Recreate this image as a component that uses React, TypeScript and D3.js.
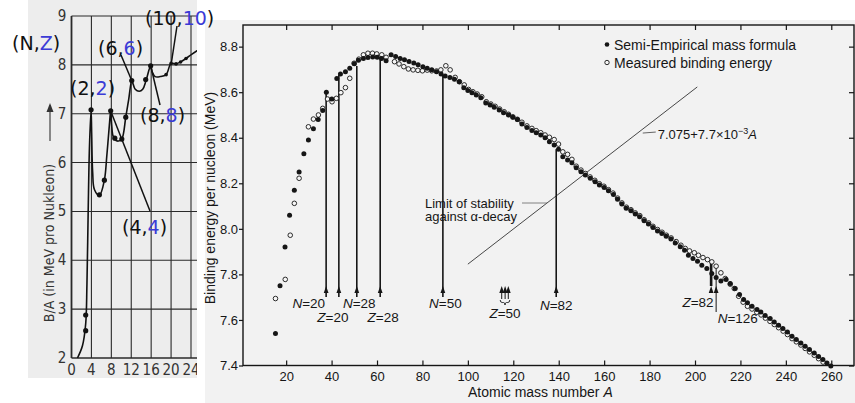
import React, { useEffect, useRef } from 'react';
import * as d3 from 'd3';

const W = 855;
const H = 403;

// ---- main chart: binding energy per nucleon ----
const semiA = [15.3, 17.3, 19.5, 21.5, 23.6, 25.7, 27.8, 29.8, 32.0, 34.1, 36.1, 37.7, 40.1, 42.3, 43.9, 46.1, 48.0, 50.0, 51.8, 54.0, 56.0, 58.1, 60.1, 62.0, 64.0, 66.2, 68.2, 70.2, 72.1, 74.1, 76.2, 78.1, 80.2, 82.1, 84.1, 86.2, 88.2, 90.0, 92.1, 94.1, 96.2, 98.2, 100.0, 101.8, 103.7, 105.7, 107.9, 109.8, 111.6, 113.8, 115.7, 117.9, 119.8, 121.8, 123.8, 126.0, 128.2, 130.1, 132.1, 134.0, 135.9, 138.0, 139.9, 141.8, 143.9, 145.8, 147.7, 149.8, 151.7, 153.9, 156.0, 157.9, 160.0, 161.9, 164.1, 165.9, 167.8, 169.7, 171.8, 173.7, 175.6, 177.6, 179.5, 181.5, 183.5, 185.4, 187.3, 189.4, 191.3, 193.5, 195.4, 197.1, 199.1, 201.1, 203.0, 205.2, 207.4, 209.3, 211.4, 213.7, 215.5, 217.7, 219.6, 221.4, 223.1, 225.1, 227.3, 229.0, 230.9, 233.1, 234.9, 236.8, 238.7, 240.7, 242.7, 244.6, 246.6, 248.5, 250.4, 252.5, 254.4, 256.3, 258.1, 259.8];
const semiV = [7.54, 7.75, 7.92, 8.06, 8.17, 8.25, 8.33, 8.39, 8.44, 8.48, 8.52, 8.60, 8.57, 8.66, 8.68, 8.69, 8.705, 8.725, 8.74, 8.748, 8.752, 8.755, 8.753, 8.748, 8.738, 8.764, 8.757, 8.748, 8.742, 8.735, 8.728, 8.72, 8.712, 8.705, 8.698, 8.69, 8.68, 8.671, 8.664, 8.657, 8.646, 8.62, 8.607, 8.598, 8.588, 8.576, 8.552, 8.544, 8.534, 8.522, 8.51, 8.50, 8.49, 8.48, 8.46, 8.445, 8.432, 8.422, 8.412, 8.40, 8.382, 8.368, 8.35, 8.316, 8.302, 8.29, 8.268, 8.251, 8.236, 8.222, 8.207, 8.193, 8.182, 8.167, 8.151, 8.13, 8.109, 8.09, 8.079, 8.065, 8.053, 8.035, 8.021, 8.006, 7.991, 7.98, 7.968, 7.955, 7.938, 7.921, 7.906, 7.884, 7.87, 7.858, 7.84, 7.826, 7.804, 7.786, 7.771, 7.778, 7.76, 7.738, 7.712, 7.69, 7.675, 7.66, 7.646, 7.635, 7.62, 7.606, 7.591, 7.577, 7.562, 7.547, 7.528, 7.514, 7.499, 7.484, 7.47, 7.455, 7.44, 7.426, 7.411, 7.398];

const measA = [15.3, 19.6, 21.8, 23.6, 25.7, 29.8, 32.0, 34.2, 36.1, 38.2, 40.2, 42.1, 44.1, 46.1, 48.0, 49.9, 52.0, 54.0, 56.0, 58.0, 59.9, 62.1, 64.0, 67.7, 69.7, 71.8, 73.8, 75.9, 78.0, 80.0, 82.1, 84.1, 86.2, 88.1, 90.3, 92.2, 94.4, 96.3, 98.4, 100.3, 102.2, 104.1, 106.1, 108.1, 110.1, 112.0, 114.0, 116.0, 117.9, 119.8, 121.8, 123.8, 126.0, 128.2, 130.1, 132.1, 134.0, 135.9, 138.0, 139.9, 141.8, 143.9, 145.8, 147.7, 149.8, 151.7, 153.8, 155.9, 157.9, 159.9, 161.9, 163.9, 165.9, 167.8, 169.8, 171.8, 173.7, 175.7, 177.6, 179.6, 181.5, 183.5, 185.5, 187.4, 189.5, 191.7, 193.8, 195.7, 197.6, 199.7, 201.5, 203.5, 205.5, 207.4, 209.3, 211.4, 213.3, 215.5, 217.3, 219.2, 221.2, 223.1, 225.1, 227.2, 229.1, 231.0, 233.0, 234.9, 236.8, 238.8, 240.7, 242.7, 244.6, 246.6, 248.5, 250.4, 252.5, 254.4, 256.4];
const measV = [7.694, 7.778, 7.972, 8.112, 8.222, 8.448, 8.482, 8.50, 8.529, 8.57, 8.558, 8.573, 8.598, 8.62, 8.661, 8.727, 8.745, 8.764, 8.771, 8.771, 8.768, 8.764, 8.753, 8.734, 8.724, 8.712, 8.702, 8.698, 8.696, 8.694, 8.697, 8.694, 8.693, 8.698, 8.716, 8.698, 8.665, 8.646, 8.632, 8.612, 8.602, 8.592, 8.58, 8.558, 8.548, 8.538, 8.526, 8.514, 8.503, 8.492, 8.481, 8.468, 8.452, 8.441, 8.431, 8.422, 8.412, 8.402, 8.392, 8.372, 8.338, 8.327, 8.305, 8.275, 8.258, 8.243, 8.228, 8.213, 8.198, 8.187, 8.172, 8.157, 8.135, 8.114, 8.095, 8.084, 8.07, 8.058, 8.04, 8.026, 8.011, 7.997, 7.985, 7.972, 7.96, 7.944, 7.928, 7.914, 7.903, 7.895, 7.884, 7.874, 7.865, 7.855, 7.836, 7.807, 7.782, 7.757, 7.738, 7.704, 7.678, 7.66, 7.648, 7.634, 7.622, 7.608, 7.594, 7.58, 7.566, 7.551, 7.536, 7.518, 7.504, 7.49, 7.475, 7.46, 7.445, 7.43, 7.415];

const xTicks = [20, 40, 60, 80, 100, 120, 140, 160, 180, 200, 220, 240, 260];
const yTicks = [7.4, 7.6, 7.8, 8.0, 8.2, 8.4, 8.6, 8.8];

// magic-number markers
const magicA = [37.6, 43.2, 51.1, 61.4, 89.0, 138.9, 207.1, 209.3];
const magicTop = [8.605, 8.675, 8.715, 8.755, 8.675, 8.35, 7.86, 7.83];
const magicLetter = ['N', 'Z', 'N', 'Z', 'N', 'N', 'Z', 'N'];
const magicNumber = ['20', '20', '28', '28', '50', '82', '82', '126'];
const z50A = [114.9, 116.4, 117.8];

// limit of stability: 7.075 + 7.7e-3 A
const stabilityA = [100, 201];
const stabilityV = [7.845, 8.623];

// ---- inset: light nuclei ----
const insetCurveA = [1.2, 2.2, 2.85, 3.1, 3.35, 3.6, 3.93, 4.05, 4.25, 4.6, 5.6, 6.6, 7.1, 7.6, 7.87, 8.05, 8.3, 8.7, 9.4, 10.1, 10.9, 11.5, 12.1, 12.4, 12.8, 13.6, 14.3, 15.0, 15.9, 16.2, 16.8, 17.8, 19.0, 20.0, 21.0, 21.9, 23.0, 24.2, 25.8];
const insetCurveV = [2.0, 2.25, 2.7, 3.5, 5.0, 6.3, 7.08, 6.6, 5.8, 5.45, 5.33, 5.64, 6.15, 6.76, 7.06, 6.8, 6.56, 6.47, 6.44, 6.48, 6.93, 7.3, 7.68, 7.6, 7.5, 7.46, 7.5, 7.69, 7.98, 7.86, 7.76, 7.76, 7.8, 8.03, 8.02, 8.06, 8.13, 8.22, 8.33];
const insetDotA = [2.85, 2.85, 3.93, 5.6, 6.6, 7.87, 8.7, 10.1, 10.9, 12.1, 14.9, 15.9, 19.0, 20.0, 21.0, 21.9, 23.0];
const insetDotV = [2.56, 2.88, 7.08, 5.34, 5.64, 7.06, 6.5, 6.48, 6.93, 7.68, 7.7, 7.98, 7.8, 8.03, 8.02, 8.06, 8.13];
const insetXTicks = [0, 4, 8, 12, 16, 20, 24];
const insetYTicks = [2, 3, 4, 5, 6, 7, 8, 9];

const MAIN_FONT = '"Liberation Sans", Arial, sans-serif';
const NOTE_FONT = '"DejaVu Sans", Verdana, sans-serif';
const INSET_FONT = '"Liberation Sans Narrow", "DejaVu Sans Condensed", sans-serif';
const INK = '#161616';
const BLUE = '#3b3bd6';

export default function App() {
    const svgRef = useRef<SVGSVGElement>(null);

    useEffect(() => {
        if (!svgRef.current) return;
        document.body.style.margin = '0';
        const svg = d3.select(svgRef.current);
        svg.selectAll('*').remove();

        // ================= inset =================
        const xi = d3.scaleLinear().domain([0, 24]).range([71.5, 191]);
        const yi = d3.scaleLinear().domain([2, 9]).range([358, 16]);

        svg.append('rect').attr('x', 28).attr('y', 0).attr('width', 169).attr('height', 378).attr('fill', '#ededed');
        svg.append('clipPath').attr('id', 'insetClip')
            .append('rect').attr('x', 28).attr('y', 0).attr('width', 169).attr('height', 378);
        const ins = svg.append('g').attr('clip-path', 'url(#insetClip)').attr('font-family', INSET_FONT);

        ins.selectAll('.hgrid').data(insetYTicks).enter().append('line')
            .attr('x1', xi(0)).attr('x2', 200)
            .attr('y1', d => yi(d)).attr('y2', d => yi(d))
            .attr('stroke', '#2a2a2a').attr('stroke-width', d => (d === 2 ? 1.6 : 1.1));
        ins.selectAll('.vgrid').data(insetXTicks).enter().append('line')
            .attr('x1', d => xi(d)).attr('x2', d => xi(d))
            .attr('y1', yi(9)).attr('y2', yi(2))
            .attr('stroke', '#2a2a2a').attr('stroke-width', d => (d === 0 ? 1.8 : 1.1));

        ins.selectAll('.ylab').data(insetYTicks).enter().append('text')
            .attr('x', 62).attr('y', d => yi(d) + 5).attr('text-anchor', 'middle')
            .attr('font-size', 15).attr('fill', '#333').text(d => d);
        ins.selectAll('.xlab').data(insetXTicks).enter().append('text')
            .attr('x', d => xi(d)).attr('y', 375).attr('text-anchor', 'middle')
            .attr('font-size', 15).attr('fill', '#333').text(d => d);

        ins.append('text')
            .attr('transform', `translate(${54},${243}) rotate(-90)`)
            .attr('text-anchor', 'middle').attr('font-size', 14).attr('fill', '#333')
            .text('B/A (in MeV pro Nukleon)');
        ins.append('line').attr('x1', 50).attr('x2', 50).attr('y1', 141).attr('y2', 105)
            .attr('stroke', '#333').attr('stroke-width', 1.1);
        ins.append('path').attr('d', 'M50,103 L46.5,112 L53.5,112 Z').attr('fill', '#333');

        const curvePts: [number, number][] = insetCurveA.map((a, i) => [xi(a), yi(insetCurveV[i])]);
        ins.append('path')
            .attr('d', d3.line().curve(d3.curveCatmullRom.alpha(0.5))(curvePts))
            .attr('fill', 'none').attr('stroke', '#111').attr('stroke-width', 1.6);
        ins.selectAll('.idot').data(insetDotA).enter().append('circle')
            .attr('cx', d => xi(d)).attr('cy', (d, i) => yi(insetDotV[i]))
            .attr('r', (d, i) => (i < 12 ? 2.6 : 1.8)).attr('fill', '#111');

        // ================= main chart =================
        const x = d3.scaleLinear().domain([1, 270]).range([243, 854]);
        const y = d3.scaleLinear().domain([7.4, 8.895]).range([365.5, 25]);
        const [x0, x1] = x.range();
        const [y0, y1] = y.range();

        svg.append('rect').attr('x', 205).attr('y', 20).attr('width', 650).attr('height', 383).attr('fill', '#f2f2f2');
        const g = svg.append('g').attr('font-family', MAIN_FONT);

        const styleAxis = (sel: d3.Selection<SVGGElement, unknown, null, undefined>) => {
            sel.select('.domain').remove();
            sel.selectAll('.tick line').attr('stroke', INK).attr('stroke-width', 1.2);
            sel.selectAll('.tick text').attr('fill', INK).attr('font-size', 13);
        };
        g.append('g').attr('transform', `translate(${x0},0)`)
            .call(d3.axisLeft(y).tickValues(yTicks).tickSize(4).tickPadding(1).tickFormat(d3.format('.1f')))
            .call(styleAxis);
        g.append('g').attr('transform', `translate(${x1},0)`)
            .call(d3.axisRight(y).tickValues(yTicks).tickSize(-5).tickFormat(() => ''))
            .call(styleAxis);
        g.append('g').attr('transform', `translate(0,${y0})`)
            .call(d3.axisBottom(x).tickValues(xTicks).tickSize(-5).tickPadding(6))
            .call(styleAxis);
        g.append('g').attr('transform', `translate(0,${y1})`)
            .call(d3.axisTop(x).tickValues(xTicks).tickSize(-5).tickFormat(() => ''))
            .call(styleAxis);

        g.append('rect').attr('x', x0).attr('y', y1).attr('width', x1 - x0).attr('height', y0 - y1)
            .attr('fill', 'none').attr('stroke', INK).attr('stroke-width', 1.4);

        // axis titles
        const xt = g.append('text').attr('x', 468).attr('y', 397).attr('font-size', 14).attr('fill', INK);
        xt.append('tspan').text('Atomic mass number ');
        xt.append('tspan').attr('font-style', 'italic').text('A');
        g.append('text')
            .attr('transform', `translate(${215},${198}) rotate(-90)`)
            .attr('text-anchor', 'middle').attr('font-size', 14).attr('fill', INK)
            .text('Binding energy per nucleon (MeV)');

        // stability line
        const lineAt = d3.scaleLinear().domain(stabilityA).range(stabilityV);
        g.append('line')
            .attr('x1', x(stabilityA[0])).attr('y1', y(stabilityV[0]))
            .attr('x2', x(stabilityA[1])).attr('y2', y(stabilityV[1]))
            .attr('stroke', '#333').attr('stroke-width', 0.9);

        // formula label
        const fA = 177;
        g.append('line')
            .attr('x1', x(fA)).attr('y1', y(lineAt(fA)) + 4)
            .attr('x2', x(fA) + 13).attr('y2', y(lineAt(fA)) + 3)
            .attr('stroke', '#555').attr('stroke-width', 0.9);
        const ft = g.append('text').attr('x', x(fA) + 15).attr('y', y(lineAt(fA)) + 9.5)
            .attr('font-size', 13).attr('fill', INK);
        ft.append('tspan').text('7.075+7.7×10');
        ft.append('tspan').attr('font-size', 9).attr('dy', -5).text('−3');
        ft.append('tspan').attr('font-style', 'italic').attr('dy', 5).text('A');

        // limit of stability label
        g.append('text').attr('x', 425).attr('y', 207.5).attr('font-size', 13).attr('fill', INK).text('Limit of stability');
        g.append('text').attr('x', 425).attr('y', 221).attr('font-size', 13).attr('fill', INK).text('against α-decay');
        const leaderY = 203;
        g.append('line')
            .attr('x1', 522).attr('y1', leaderY)
            .attr('x2', x(lineAt.invert(y.invert(leaderY)))).attr('y2', leaderY)
            .attr('stroke', '#666').attr('stroke-width', 0.8);

        // magic-number lines with arrows
        const tipY = 286;
        const arrow = (cx: number, ty: number) =>
            g.append('path').attr('d', `M${cx},${ty} L${cx - 2.4},${ty + 7} L${cx + 2.4},${ty + 7} Z`).attr('fill', INK);
        magicA.forEach((a, i) => {
            const cx = x(a);
            const bottom = i === 7 ? 312 : (i === 6 ? tipY : 297);
            g.append('line')
                .attr('x1', cx).attr('x2', cx)
                .attr('y1', y(magicTop[i])).attr('y2', bottom)
                .attr('stroke', INK).attr('stroke-width', i === 6 ? 2.6 : (i === 7 ? 1 : 1.6));
            arrow(cx, tipY);
        });

        const labelLayout = [
            { dx: -1, anchor: 'end', by: 308 },
            { dx: -6, anchor: 'middle', by: 322 },
            { dx: 2.5, anchor: 'middle', by: 308 },
            { dx: 3, anchor: 'middle', by: 322 },
            { dx: 2.5, anchor: 'middle', by: 308 },
            { dx: 0, anchor: 'middle', by: 310 },
            { dx: 2.5, anchor: 'end', by: 307 },
            { dx: 1.5, anchor: 'start', by: 323 },
        ];
        magicA.forEach((a, i) => {
            const L = labelLayout[i];
            const t = g.append('text').attr('x', x(a) + L.dx).attr('y', L.by)
                .attr('text-anchor', L.anchor).attr('font-size', 13.5).attr('fill', INK);
            t.append('tspan').attr('font-style', 'italic').text(magicLetter[i]);
            t.append('tspan').text('=' + magicNumber[i]);
        });

        // Z = 50 triple arrows
        z50A.forEach(a => {
            const cx = x(a);
            g.append('line').attr('x1', cx).attr('x2', cx).attr('y1', tipY + 4).attr('y2', 299)
                .attr('stroke', INK).attr('stroke-width', 1);
            arrow(cx, tipY);
        });
        const bx0 = x(z50A[0]) - 1.5;
        const bx1 = x(z50A[2]) + 1.5;
        const bm = (bx0 + bx1) / 2;
        g.append('path')
            .attr('d', `M${bx0},300 Q${bx0},302.5 ${bx0 + 2},302.5 L${bm - 1.5},302.5 Q${bm},302.5 ${bm},305 Q${bm},302.5 ${bm + 1.5},302.5 L${bx1 - 2},302.5 Q${bx1},302.5 ${bx1},300`)
            .attr('fill', 'none').attr('stroke', INK).attr('stroke-width', 0.9);
        const z50 = g.append('text').attr('x', bm).attr('y', 318).attr('text-anchor', 'middle')
            .attr('font-size', 13.5).attr('fill', INK);
        z50.append('tspan').attr('font-style', 'italic').text('Z');
        z50.append('tspan').text('=50');

        // data points
        g.selectAll('.meas').data(measA).enter().append('circle')
            .attr('cx', d => x(d)).attr('cy', (d, i) => y(measV[i])).attr('r', 2.3)
            .attr('fill', '#f6f6f6').attr('stroke', INK).attr('stroke-width', 0.9);
        g.selectAll('.semi').data(semiA).enter().append('circle')
            .attr('cx', d => x(d)).attr('cy', (d, i) => y(semiV[i])).attr('r', 2.5)
            .attr('fill', INK);

        // legend
        g.append('circle').attr('cx', 607).attr('cy', 44.5).attr('r', 2.3).attr('fill', INK);
        g.append('text').attr('x', 614).attr('y', 49.5).attr('font-size', 14).attr('fill', INK).text('Semi-Empirical mass formula');
        g.append('circle').attr('cx', 607).attr('cy', 62.5).attr('r', 2.2).attr('fill', '#f6f6f6').attr('stroke', INK).attr('stroke-width', 0.9);
        g.append('text').attr('x', 614).attr('y', 67.5).attr('font-size', 14).attr('fill', INK).text('Measured binding energy');

        // ================= (N,Z) annotations over the inset =================
        const notes = svg.append('g').attr('font-family', NOTE_FONT).attr('font-size', 19);
        const leaders: [number, number, number, number][] = [
            [121, 55, 131.5, 80],
            [150.7, 66, 160, 105],
            [177, 26, 171.5, 62],
            [110.7, 111, 150, 211],
        ];
        leaders.forEach(([ax, ay, bx, by]) => {
            notes.append('line').attr('x1', ax).attr('y1', ay).attr('x2', bx).attr('y2', by)
                .attr('stroke', '#111').attr('stroke-width', 1.5);
        });
        const pairs: { n: string; z: string; x: number; y: number }[] = [
            { n: 'N', z: 'Z', x: 12, y: 50 },
            { n: '2', z: '2', x: 70, y: 95 },
            { n: '6', z: '6', x: 98, y: 55 },
            { n: '10', z: '10', x: 145, y: 25 },
            { n: '8', z: '8', x: 140, y: 122 },
            { n: '4', z: '4', x: 122, y: 234 },
        ];
        pairs.forEach(p => {
            const t = notes.append('text').attr('x', p.x).attr('y', p.y).attr('fill', '#111');
            t.append('tspan').text(`(${p.n},`);
            t.append('tspan').attr('fill', BLUE).text(p.z);
            t.append('tspan').text(')');
        });
    }, []);

    return <svg ref={svgRef} width={W} height={H} style={{ display: 'block', background: '#ffffff' }} />;
}
